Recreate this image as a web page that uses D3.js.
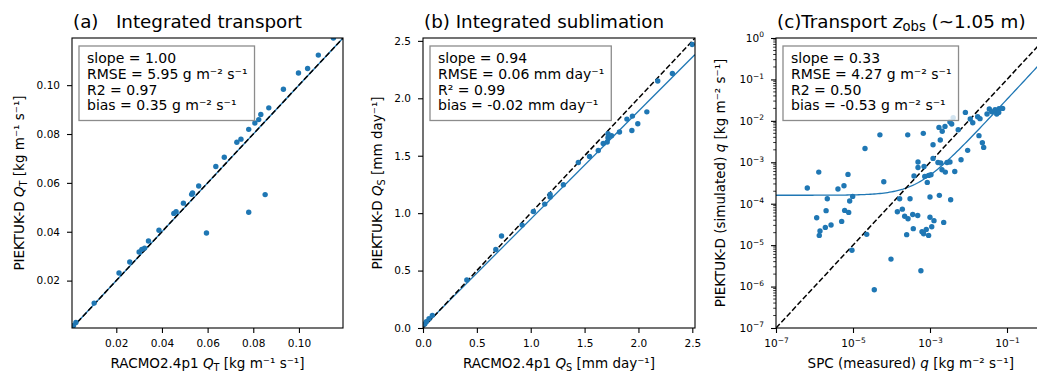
<!DOCTYPE html>
<html>
<head>
<meta charset="utf-8">
<script src="https://cdn.jsdelivr.net/npm/d3@7"></script>
<style>
  body { margin: 0; background: #fff; }
  svg { display: block; font-family: "DejaVu Sans", sans-serif; }
</style>
</head>
<body>
<div id="chart"></div>
<script>
// (a) integrated transport [kg m-1 s-1]
const transportRacmo = [0.0006, 0.0013, 0.0023, 0.0103, 0.0212, 0.0259, 0.0300, 0.0312, 0.0324, 0.0341,
  0.0387, 0.0452, 0.0462, 0.0494, 0.0530, 0.0534, 0.0561, 0.0636, 0.0673, 0.0728, 0.0746, 0.0780,
  0.0807, 0.0824, 0.0833, 0.0868, 0.0932, 0.0998, 0.1038, 0.1085, 0.1151, 0.0595, 0.0780, 0.0852];
const transportPiektuk = [0.0008, 0.0016, 0.0029, 0.0108, 0.0231, 0.0276, 0.0317, 0.0328, 0.0333, 0.0362,
  0.0406, 0.0475, 0.0482, 0.0517, 0.0553, 0.0559, 0.0587, 0.0667, 0.0705, 0.0766, 0.0779, 0.0819,
  0.0845, 0.0859, 0.0880, 0.0907, 0.0983, 0.1050, 0.1068, 0.1123, 0.1193, 0.0395, 0.0480, 0.0552];

// (b) integrated sublimation [mm day-1]
const sublimRacmo = [0.016, 0.031, 0.056, 0.087, 0.407, 0.676, 0.729, 0.920, 1.025, 1.130, 1.180, 1.180,
  1.303, 1.442, 1.546, 1.627, 1.673, 1.710, 1.717, 1.717, 1.750, 1.824, 1.893, 1.939, 1.944, 1.994,
  2.078, 2.179, 2.315, 2.500];
const sublimPiektuk = [0.035, 0.055, 0.081, 0.110, 0.418, 0.684, 0.801, 0.896, 1.015, 1.079, 1.140, 1.163,
  1.247, 1.441, 1.494, 1.546, 1.607, 1.619, 1.656, 1.691, 1.674, 1.706, 1.819, 1.720, 1.845, 1.778,
  1.882, 2.150, 2.216, 2.468];

// (c) transport at z_obs [kg m-2 s-1]
const spcMeasured = [6.5e-7, 1.29e-6, 2.15e-6, 2.0e-6, 1.14e-6, 1.39e-6, 1.33e-6, 1.91e-6, 2.69e-6, 4.07e-6,
  5.83e-6, 7.41e-6, 8.2e-6, 9.8e-6, 6.08e-6, 7.73e-6, 5.08e-6, 2.27e-5, 9.4e-6, 2.05e-5,
  5.0e-5, 6.3e-5, 9.7e-5, 3.57e-5, 2.64e-4, 6.7e-4, 1.63e-4, 1.42e-4, 1.91e-4, 2.2e-4,
  2.69e-4, 3.56e-4, 4.8e-4, 3.03e-4, 3.68e-4, 2.48e-4, 6.85e-4, 8.0e-4, 9.2e-4, 1.11e-3,
  1.27e-3, 1.0e-3, 1.0e-3, 1.75e-3, 2.27e-3, 3.44e-3, 5.8e-4, 3.84e-4, 4.88e-4, 4.88e-4,
  7.0e-4, 7.3e-4, 8.5e-4, 9.2e-4, 1.06e-3, 1.2e-3, 1.2e-3, 1.61e-3, 1.9e-3, 2.05e-3,
  2.5e-3, 2.77e-3, 3.3e-3, 1.85e-3, 2.08e-3, 1.71e-3, 2.45e-3, 3.3e-3, 4.0e-3, 3.66e-3,
  5.4e-3, 6.4e-3, 8.3e-3, 9.5e-3, 1.11e-2, 1.29e-2, 1.73e-2, 1.99e-2, 1.87e-2, 2.29e-2,
  2.48e-2, 3.03e-2, 3.47e-2, 4.0e-2, 4.9e-2, 5.4e-2, 6.2e-2, 7.7e-2, 6.1e-2, 4.4e-3, 6.2e-4];
const spcSimulated = [2.4e-4, 5.8e-4, 1.32e-4, 6.8e-5, 4.6e-5, 2.2e-5, 1.72e-5, 2.68e-5, 3.06e-5, 2.26e-4,
  2.72e-4, 5.1e-4, 1.16e-4, 1.5e-4, 6.9e-5, 6.17e-5, 3.74e-5, 1.82e-5, 7.5e-6, 2.16e-3,
  4.6e-3, 3.4e-4, 4.6e-6, 8.4e-7, 4.6e-3, 5.0e-3, 1.32e-4, 6.4e-5, 7.4e-5, 5.0e-5,
  4.35e-5, 5.5e-5, 5.2e-5, 1.32e-4, 2.5e-5, 1.79e-5, 1.89e-5, 2.4e-5, 1.72e-5, 2.79e-5,
  3.9e-5, 4.7e-5, 1.45e-4, 1.59e-4, 3.54e-5, 1.25e-4, 2.4e-6, 4.67e-4, 1.02e-3, 7.5e-4,
  7.9e-4, 4.56e-4, 3.27e-4, 4.82e-4, 5.0e-4, 1.24e-3, 2.65e-3, 9.9e-4, 9.6e-4, 6.6e-4,
  5.8e-4, 9.9e-4, 1.02e-3, 3.45e-3, 5.6e-3, 6.95e-3, 7.35e-3, 9.4e-3, 1.19e-2, 8.4e-3,
  6.1e-3, 1.15e-3, 1.6e-2, 1.94e-3, 1.11e-2, 9.0e-3, 1.26e-2, 1.13e-2, 4.4e-3, 2.97e-3,
  2.29e-3, 1.46e-2, 1.93e-2, 1.66e-2, 1.86e-2, 1.46e-2, 1.96e-2, 2.0e-2, 1.6e-2, 6.0e-4, 2.1e-5];

// regression fits (slope, intercept)
const fitA = [1.00, 0.0];
const fitB = [0.94, 0.008];
const fitC = [0.33, 1.6e-4];

const statsA = ["slope = 1.00", "RMSE = 5.95 g m⁻² s⁻¹", "R2 = 0.97", "bias = 0.35 g m⁻² s⁻¹"];
const statsB = ["slope = 0.94", "RMSE = 0.06 mm day⁻¹", "R² = 0.99", "bias = -0.02 mm day⁻¹"];
const statsC = ["slope = 0.33", "RMSE = 4.27 g m⁻² s⁻¹", "R2 = 0.50", "bias = -0.53 g m⁻² s⁻¹"];

const ticksA = [0.02, 0.04, 0.06, 0.08, 0.10];
const ticksB = [0.0, 0.5, 1.0, 1.5, 2.0, 2.5];
const ticksCx = [-7, -5, -3, -1];
const ticksCy = [-7, -6, -5, -4, -3, -2, -1, 0];

const blue = "#1f77b4";
const W = 1037, H = 371;
const plotTop = 38, plotH = 290;

const svg = d3.select("#chart").append("svg")
    .attr("width", W)
    .attr("height", H);

// small helper for text with italic symbol + subscript
function richText(sel, parts) {
  parts.forEach(p => {
    const t = sel.append("tspan").text(p.t);
    if (p.it) t.attr("font-style", "italic");
    if (p.sub) t.attr("font-size", "0.72em").attr("dy", 3);
    if (p.back) t.attr("dy", -3);
  });
}

function makePanel(cfg) {
  const g = svg.append("g").attr("transform", `translate(${cfg.left},${plotTop})`);
  const x = cfg.x, y = cfg.y;

  const clipId = "clip-" + cfg.id;
  g.append("clipPath").attr("id", clipId)
    .append("rect").attr("width", cfg.width).attr("height", plotH);

  const plot = g.append("g").attr("clip-path", `url(#${clipId})`);

  // fit line under the 1:1 line
  plot.append("path")
    .datum(cfg.fitPts)
    .attr("fill", "none")
    .attr("stroke", blue)
    .attr("stroke-width", 1.3)
    .attr("d", d3.line().x(d => x(d[0])).y(d => y(d[1])));

  plot.append("line")
    .attr("x1", x(cfg.oneToOne[0])).attr("y1", y(cfg.oneToOne[0]))
    .attr("x2", x(cfg.oneToOne[1])).attr("y2", y(cfg.oneToOne[1]))
    .attr("stroke", "#000")
    .attr("stroke-width", 1.5)
    .attr("stroke-dasharray", "5.5,2.4");

  plot.selectAll("circle")
    .data(cfg.xs.map((v, i) => [v, cfg.ys[i]]))
    .join("circle")
      .attr("cx", d => x(d[0]))
      .attr("cy", d => y(d[1]))
      .attr("r", 2.7)
      .attr("fill", blue);

  // stats box
  const box = g.append("g").attr("transform", "translate(7,8)");
  const rect = box.append("rect")
    .attr("fill", "#fff").attr("fill-opacity", 0.8)
    .attr("stroke", "#8c8c8c").attr("stroke-width", 1.3);
  const txt = box.append("text").attr("font-size", 14).attr("fill", "#000");
  cfg.stats.forEach((s, i) => {
    txt.append("tspan").attr("x", 8).attr("y", 17.3 + i * 15.6).text(s);
  });
  const bb = txt.node().getBBox();
  rect.attr("width", bb.width + 15).attr("height", 74.5);

  // axes
  const xAxis = g.append("g").attr("transform", `translate(0,${plotH})`)
    .call(d3.axisBottom(x).tickValues(cfg.xTicks).tickFormat(cfg.xFmt).tickSize(5).tickPadding(7));
  const yAxis = g.append("g")
    .call(d3.axisLeft(y).tickValues(cfg.yTicks).tickFormat(cfg.yFmt).tickSize(5).tickPadding(7));
  [xAxis, yAxis].forEach(a => {
    a.attr("font-family", null).attr("font-size", 10.5);
    a.select(".domain").remove();
    a.selectAll(".tick line").attr("stroke", "#000").attr("stroke-width", 1.1);
    a.selectAll(".tick text").attr("fill", "#000");
  });

  if (cfg.log) {
    // superscript exponents
    [xAxis, yAxis].forEach(a => {
      a.selectAll(".tick text").each(function(d) {
        const t = d3.select(this);
        const e = Math.round(Math.log10(d));
        t.text("10");
        t.append("tspan").attr("dy", -4.5).attr("font-size", 7.5)
          .text(e < 0 ? "−" + (-e) : String(e));
      });
    });
    // minor y ticks
    const minors = [];
    ticksCy.slice(0, -1).forEach(e => {
      for (let k = 2; k <= 9; k++) minors.push(k * Math.pow(10, e));
    });
    g.append("g").selectAll("line").data(minors).join("line")
      .attr("x1", -2.8).attr("x2", 0)
      .attr("y1", d => y(d)).attr("y2", d => y(d))
      .attr("stroke", "#000").attr("stroke-width", 0.8);
  }

  // spines
  g.append("rect")
    .attr("width", cfg.width).attr("height", plotH)
    .attr("fill", "none").attr("stroke", "#000").attr("stroke-width", 1.1);

  // title
  const title = g.append("text").attr("x", 1).attr("y", -10.5)
    .attr("font-size", 18.3).attr("fill", "#000")
    .style("white-space", "pre");
  richText(title, cfg.title);

  // axis labels
  const xl = g.append("text").attr("x", cfg.width / 2).attr("y", 329.5)
    .attr("text-anchor", "middle").attr("font-size", 13.5).attr("fill", "#000");
  richText(xl, cfg.xLabel);
  const yl = g.append("text")
    .attr("transform", `translate(${cfg.yLabelX},${plotH / 2}) rotate(-90)`)
    .attr("text-anchor", "middle").attr("font-size", 13.5).attr("fill", "#000");
  richText(yl, cfg.yLabel);
}

// panel (a)
const domA = [0.0006, 0.1193];
const xA = d3.scaleLinear().domain(domA).range([0, 271]);
const yA = d3.scaleLinear().domain(domA).range([plotH, 0]);
makePanel({
  id: "a", left: 72, width: 271, x: xA, y: yA,
  xs: transportRacmo, ys: transportPiektuk, stats: statsA,
  fitPts: domA.map(v => [v, fitA[0] * v + fitA[1]]),
  oneToOne: domA,
  xTicks: ticksA, yTicks: ticksA, xFmt: d3.format(".2f"), yFmt: d3.format(".2f"),
  title: [{t: "(a)   Integrated transport"}],
  xLabel: [{t: "RACMO2.4p1 "}, {t: "Q", it: true}, {t: "T", sub: true}, {t: " [kg m⁻¹ s⁻¹]", back: true}],
  yLabel: [{t: "PIEKTUK-D "}, {t: "Q", it: true}, {t: "T", sub: true}, {t: " [kg m⁻¹ s⁻¹]", back: true}],
  yLabelX: -48
});

// panel (b)
const domB = [0, 2.525];
const xB = d3.scaleLinear().domain(domB).range([0, 272]);
const yB = d3.scaleLinear().domain(domB).range([plotH, 0]);
makePanel({
  id: "b", left: 423, width: 272, x: xB, y: yB,
  xs: sublimRacmo, ys: sublimPiektuk, stats: statsB,
  fitPts: domB.map(v => [v, fitB[0] * v + fitB[1]]),
  oneToOne: domB,
  xTicks: ticksB, yTicks: ticksB, xFmt: d3.format(".1f"), yFmt: d3.format(".1f"),
  title: [{t: "(b) Integrated sublimation"}],
  xLabel: [{t: "RACMO2.4p1 "}, {t: "Q", it: true}, {t: "S", sub: true}, {t: " [mm day⁻¹]", back: true}],
  yLabel: [{t: "PIEKTUK-D "}, {t: "Q", it: true}, {t: "S", sub: true}, {t: " [mm day⁻¹]", back: true}],
  yLabelX: -41
});

// panel (c), log-log
const domC = [1e-7, 1];
const xC = d3.scaleLog().domain(domC).range([0, 269.5]);
const yC = d3.scaleLog().domain(domC).range([plotH, 0]);
const fitCPts = d3.range(-7, 0.01, 0.05).map(e => {
  const v = Math.pow(10, e);
  return [v, fitC[0] * v + fitC[1]];
});
makePanel({
  id: "c", left: 776, width: 269.5, x: xC, y: yC, log: true,
  xs: spcMeasured, ys: spcSimulated, stats: statsC,
  fitPts: fitCPts,
  oneToOne: domC,
  xTicks: ticksCx.map(e => Math.pow(10, e)), yTicks: ticksCy.map(e => Math.pow(10, e)),
  xFmt: d => d, yFmt: d => d,
  title: [{t: "(c)Transport "}, {t: "z", it: true}, {t: "obs", sub: true}, {t: " (~1.05 m)", back: true}],
  xLabel: [{t: "SPC (measured) "}, {t: "q", it: true}, {t: " [kg m⁻² s⁻¹]"}],
  yLabel: [{t: "PIEKTUK-D (simulated) "}, {t: "q", it: true}, {t: " [kg m⁻² s⁻¹]"}],
  yLabelX: -51
});
</script>
</body>
</html>
